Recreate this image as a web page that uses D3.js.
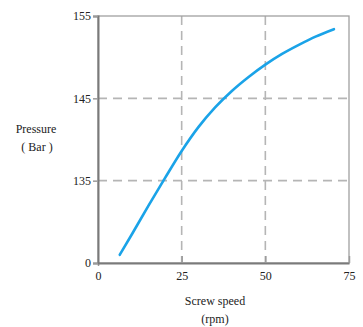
<!DOCTYPE html>
<html><head><meta charset="utf-8">
<script src="https://cdn.jsdelivr.net/npm/d3@7"></script>
<style>body{margin:0;background:#fff} text{font-family:"Liberation Serif","DejaVu Serif",serif}</style>
</head><body>
<svg id="c" width="363" height="327"></svg>
<script>
const speed = [6.5, 10, 15, 20, 25, 30, 35, 40, 45, 50, 55, 60, 65, 70.5];
const pressure = [126.0, 128.4, 131.9, 135.3, 138.6, 141.5, 143.9, 145.9, 147.6, 149.1, 150.4, 151.5, 152.5, 153.4];
const xTicks = [0, 25, 50, 75];
const yTicks = [125, 135, 145, 155];
const yTickLabels = ["0", "135", "145", "155"];

const svg = d3.select("#c");
const x = d3.scaleLinear().domain([0, 75]).range([98, 349]);
const y = d3.scaleLinear().domain([125, 155]).range([263, 16]);
const font = "Liberation Serif, DejaVu Serif, serif";

// grid
svg.append("g").selectAll("line").data([25, 50]).join("line")
  .attr("x1", d => x(d)).attr("x2", d => x(d)).attr("y1", y(155)).attr("y2", y(125))
  .attr("stroke", "#b5b5b5").attr("stroke-width", 1.6).attr("stroke-dasharray", "9,6");
svg.append("g").selectAll("line").data([135, 145]).join("line")
  .attr("x1", x(0)).attr("x2", x(75)).attr("y1", d => y(d)).attr("y2", d => y(d))
  .attr("stroke", "#b5b5b5").attr("stroke-width", 1.6).attr("stroke-dasharray", "9,6");

// frame
svg.append("rect").attr("x", x(0)).attr("y", y(155)).attr("width", x(75) - x(0)).attr("height", y(125) - y(155))
  .attr("fill", "none").attr("stroke", "#a0a0a0").attr("stroke-width", 1.3);

// axes
const xAxis = svg.append("g").attr("transform", `translate(0,${y(125)})`)
  .call(d3.axisBottom(x).tickValues(xTicks).tickSize(0).tickPadding(8).tickFormat(d3.format("d")));
xAxis.select(".domain").attr("stroke", "#7a7a7a").attr("stroke-width", 2);
xAxis.selectAll(".tick").append("line").attr("y1", 0).attr("y2", d => d === 0 ? 3 : -7)
  .attr("stroke", "#9a9a9a").attr("stroke-width", 1.5);
xAxis.selectAll("text").attr("font-family", font).attr("font-size", 12).attr("fill", "#222");

const yAxis = svg.append("g").attr("transform", `translate(${x(0)},0)`)
  .call(d3.axisLeft(y).tickValues(yTicks).tickSize(5).tickPadding(2).tickFormat((d, i) => yTickLabels[i]));
yAxis.select(".domain").attr("stroke", "#7a7a7a").attr("stroke-width", 2);
yAxis.selectAll(".tick line").attr("stroke", "#9a9a9a").attr("stroke-width", 1.5);
yAxis.selectAll("text").attr("font-family", font).attr("font-size", 12).attr("fill", "#222");

// curve
const pts = speed.map((s, i) => [s, pressure[i]]);
svg.append("path").datum(pts)
  .attr("d", d3.line().x(d => x(d[0])).y(d => y(d[1])).curve(d3.curveMonotoneX))
  .attr("fill", "none").attr("stroke", "#1aa3e8").attr("stroke-width", 2.6).attr("stroke-linecap", "round");

// labels
const lab = (t, lx, ly) => svg.append("text").attr("x", lx).attr("y", ly).attr("text-anchor", "middle")
  .attr("font-family", font).attr("font-size", 12).attr("fill", "#222").text(t);
lab("Pressure", 36, 133);
lab("( Bar )", 37, 151);
lab("Screw speed", 215, 305);
lab("(rpm)", 215, 323);
</script>
</body></html>
